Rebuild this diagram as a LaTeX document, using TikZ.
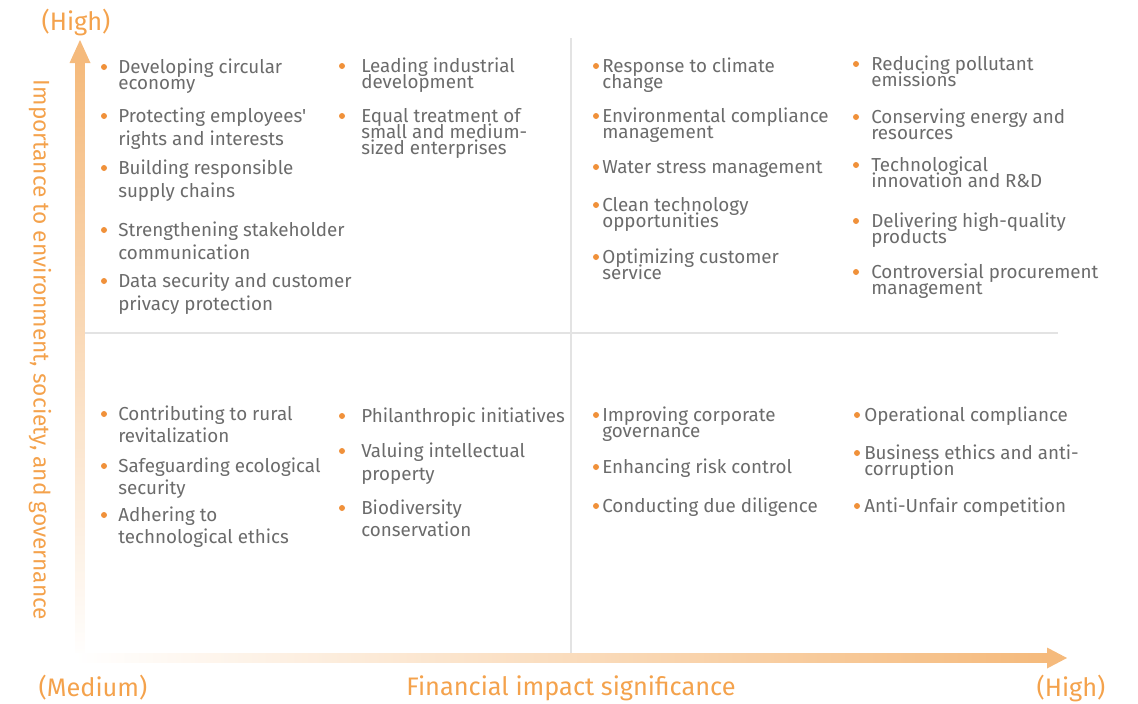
\documentclass[tikz,border=0pt]{standalone}
\usepackage{fontspec}
\setmainfont{Fira Sans}[Ligatures=TeXOff]
\definecolor{txt}{HTML}{6B6B6B}
\definecolor{bul}{HTML}{F0913A}
\definecolor{axo}{HTML}{F4A24C}
\definecolor{arr}{HTML}{F5BA7C}
\definecolor{gridc}{HTML}{E3E3E3}
\newcommand\mylines[2]{\vtop{\baselineskip=#1\lineskiplimit=-100pt\lineskip=0pt\def\\{\egroup\hbox\bgroup}\hbox\bgroup#2\egroup}}
\newcommand\itm[6]{%
  \node[itemtext] (#1) at (#3,#4+5) {\mylines{#5}{#6}};
  \node[bulletdot] (#1-b) at (#2,#4-1) {};
}
\begin{document}
\begin{tikzpicture}[x=0.75pt,y=-0.75pt,
  itemtext/.style={anchor=base west,inner sep=0pt,text=txt,font=\fontsize{14.1}{16}\selectfont},
  bulletdot/.style={circle,fill=bul,inner sep=0pt,minimum size=4.5pt},
  axislabel/.style={text=axo,inner sep=0pt,font=\fontsize{19}{22}\selectfont},
  gridline/.style={draw=gridc,line width=0.9pt}]
\useasboundingbox (0,0) rectangle (1138,703);
% grid
\coordinate (gtop) at (571,38);
\coordinate (gbot) at (571,655);
\coordinate (gleft) at (85,333);
\coordinate (gright) at (1058,333);
\draw[gridline] (gtop) -- (gbot);
\draw[gridline] (gleft) -- (gright);
% axes
\coordinate (origin) at (80,660);
\coordinate (ytip) at (80,40);
\coordinate (xtip) at (1067,658);
\shade[bottom color=white,top color=arr] (75.5,662) rectangle (84.5,61);
\fill[arr] (ytip) -- (69.5,63) -- (90.5,63) -- cycle;
\shade[left color=white,right color=arr] (75,653.5) rectangle (1049,662.5);
\fill[arr] (xtip) -- (1047,647.5) -- (1047,668.5) -- cycle;
% axis labels
\node[axislabel] (yhigh) at (76,22) {(High)};
\node[axislabel] (xmed) at (93,688) {(Medium)};
\node[axislabel] (xtitle) at (571,688) {Financial impact significance};
\node[axislabel] (xhigh) at (1071,688) {(High)};
\node[axislabel,rotate=-90,font=\fontsize{17}{20}\selectfont] (ytitle) at (40,350) {Importance to environment, society, and governance};
% top-left
\itm{a1}{104}{118}{68}{12pt}{Developing circular\\economy}
\itm{a2}{104}{118}{117}{17.5pt}{Protecting employees'\\rights and interests}
\itm{a3}{104}{118}{169}{17.5pt}{Building responsible\\supply chains}
\itm{a4}{104}{118}{231}{17.5pt}{Strengthening stakeholder\\communication}
\itm{a5}{104}{118}{282}{17.5pt}{Data security and customer\\privacy protection}
\itm{b1}{342}{361}{67}{12pt}{Leading industrial\\development}
\itm{b2}{342}{361}{117}{12.3pt}{Equal treatment of\\small and medium-\\sized enterprises}
% top-right
\itm{c1}{596}{602}{67}{12pt}{Response to climate\\change}
\itm{c2}{596}{602}{117}{12pt}{Environmental compliance\\management}
\itm{c3}{596}{602}{168}{12pt}{Water stress management}
\itm{c4}{596}{602}{206}{12pt}{Clean technology\\opportunities}
\itm{c5}{596}{602}{258}{12pt}{Optimizing customer\\service}
\itm{d1}{856}{871}{65}{12pt}{Reducing pollutant\\emissions}
\itm{d2}{856}{871}{118}{12pt}{Conserving energy and\\resources}
\itm{d3}{856}{871}{166}{12pt}{Technological\\innovation and R\&D}
\itm{d4}{856}{871}{222}{12pt}{Delivering high-quality\\products}
\itm{d5}{856}{871}{273}{12.5pt}{Controversial procurement\\management}
% bottom-left
\itm{e1}{104}{118}{415}{16.5pt}{Contributing to rural\\revitalization}
\itm{e2}{104}{118}{467}{16.5pt}{Safeguarding ecological\\security}
\itm{e3}{104}{118}{516}{16.5pt}{Adhering to\\technological ethics}
\itm{f1}{342}{361}{417}{16.5pt}{Philanthropic initiatives}
\itm{f2}{342}{361}{452}{17.5pt}{Valuing intellectual\\property}
\itm{f3}{342}{361}{509}{16.5pt}{Biodiversity\\conservation}
% bottom-right
\itm{g1}{596}{602}{416}{12pt}{Improving corporate\\governance}
\itm{g2}{596}{602}{468}{12pt}{Enhancing risk control}
\itm{g3}{596}{602}{507}{12pt}{Conducting due diligence}
\itm{h1}{857}{864}{416}{12pt}{Operational compliance}
\itm{h2}{857}{864}{454}{12pt}{Business ethics and anti-\\corruption}
\itm{h3}{857}{864}{507}{12pt}{Anti-Unfair competition}
\end{tikzpicture}
\end{document}
